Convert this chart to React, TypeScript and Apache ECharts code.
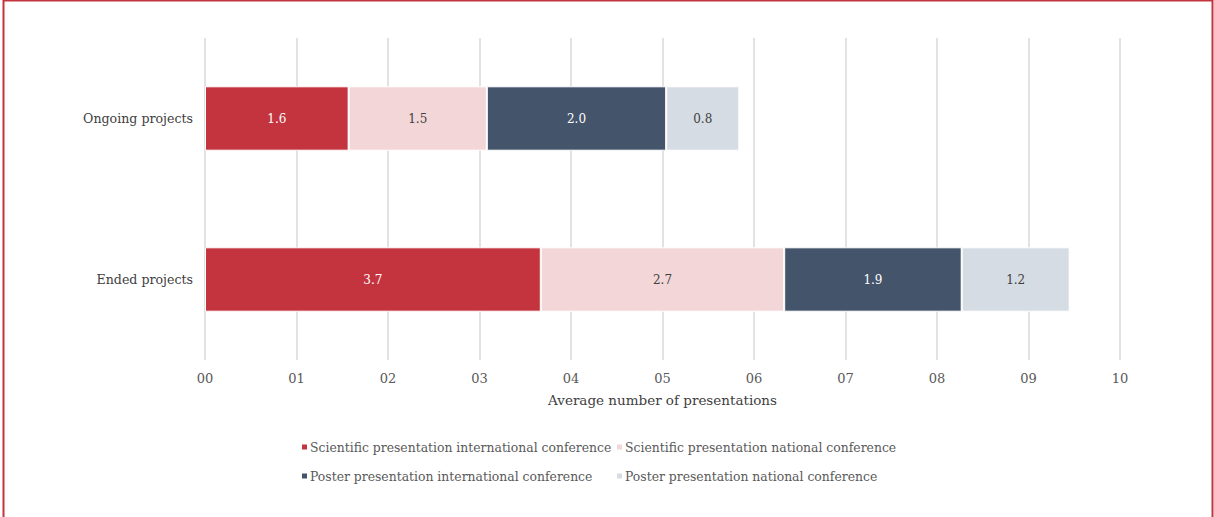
import React, { useEffect, useRef } from "react";
import * as echarts from "echarts";

// Project groups shown on the category axis (top to bottom)
const categories = ["Ongoing projects", "Ended projects"];

// Average number of presentations per project, by type
const seriesNames = [
  "Scientific presentation international conference",
  "Scientific presentation national conference",
  "Poster presentation international conference",
  "Poster presentation national conference",
];
const sciIntl = [1.57, 3.67];
const sciNatl = [1.51, 2.66];
const posterIntl = [1.96, 1.94];
const posterNatl = [0.8, 1.18];

const seriesValues = [sciIntl, sciNatl, posterIntl, posterNatl];
const seriesColors = ["#c3343f", "#f3d6d8", "#44546a", "#d6dce4"];
const labelColors = ["#ffffff", "#404040", "#ffffff", "#404040"];

// Legend placement: two columns, two rows
const legendPos = [
  { left: 295, top: 436 },
  { left: 610, top: 436 },
  { left: 295, top: 465 },
  { left: 610, top: 465 },
];

const FONT = "'DejaVu Serif', Georgia, serif";

export default function App() {
  const ref = useRef<HTMLDivElement>(null);

  useEffect(() => {
    if (!ref.current) return;
    const chart = echarts.init(ref.current, null, { renderer: "svg" });

    const series = seriesNames.map((name, i) => ({
      name,
      type: "bar",
      stack: "total",
      barCategoryGap: "60%",
      data: seriesValues[i],
      itemStyle: { color: seriesColors[i], borderColor: "#ffffff", borderWidth: 1 },
      label: {
        show: true,
        position: "inside",
        color: labelColors[i],
        fontFamily: FONT,
        fontSize: 12,
        formatter: (p: any) => Number(p.value).toFixed(1),
      },
    }));

    chart.setOption({
      animation: false,
      backgroundColor: "#ffffff",
      textStyle: { fontFamily: FONT },
      grid: { left: 205, right: 94, top: 38, bottom: 157, containLabel: false },
      xAxis: {
        type: "value",
        min: 0,
        max: 10,
        interval: 1,
        name: "Average number of presentations",
        nameLocation: "middle",
        nameGap: 33,
        nameTextStyle: { color: "#404040", fontSize: 13.5, fontFamily: FONT },
        axisLine: { show: false },
        axisTick: { show: false },
        axisLabel: {
          color: "#595959",
          fontSize: 13,
          fontFamily: FONT,
          margin: 12,
          formatter: (v: number) => String(v).padStart(2, "0"),
        },
        splitLine: { show: true, lineStyle: { color: "#d9d9d9", width: 1.5 } },
      },
      yAxis: {
        type: "category",
        data: categories,
        inverse: true,
        axisLine: { show: false },
        axisTick: { show: false },
        axisLabel: { color: "#404040", fontSize: 12.6, fontFamily: FONT, margin: 12 },
      },
      legend: seriesNames.map((name, i) => ({
        data: [name],
        left: legendPos[i].left,
        top: legendPos[i].top,
        icon: "rect",
        itemWidth: 7,
        itemHeight: 7,
        itemGap: 0,
        selectedMode: false,
        textStyle: { color: "#595959", fontSize: 12.4, fontFamily: FONT, padding: [0, 0, 0, -3] },
      })),
      graphic: [
        {
          type: "rect",
          shape: { x: 3.5, y: 0.5, width: 1209, height: 540 },
          style: { fill: "none", stroke: "#c3343f", lineWidth: 2 },
          silent: true,
        },
      ],
      series,
    });

    return () => chart.dispose();
  }, []);

  return (
    <div
      ref={ref}
      style={{ position: "absolute", left: 0, top: 0, width: 1214, height: 517 }}
    />
  );
}
